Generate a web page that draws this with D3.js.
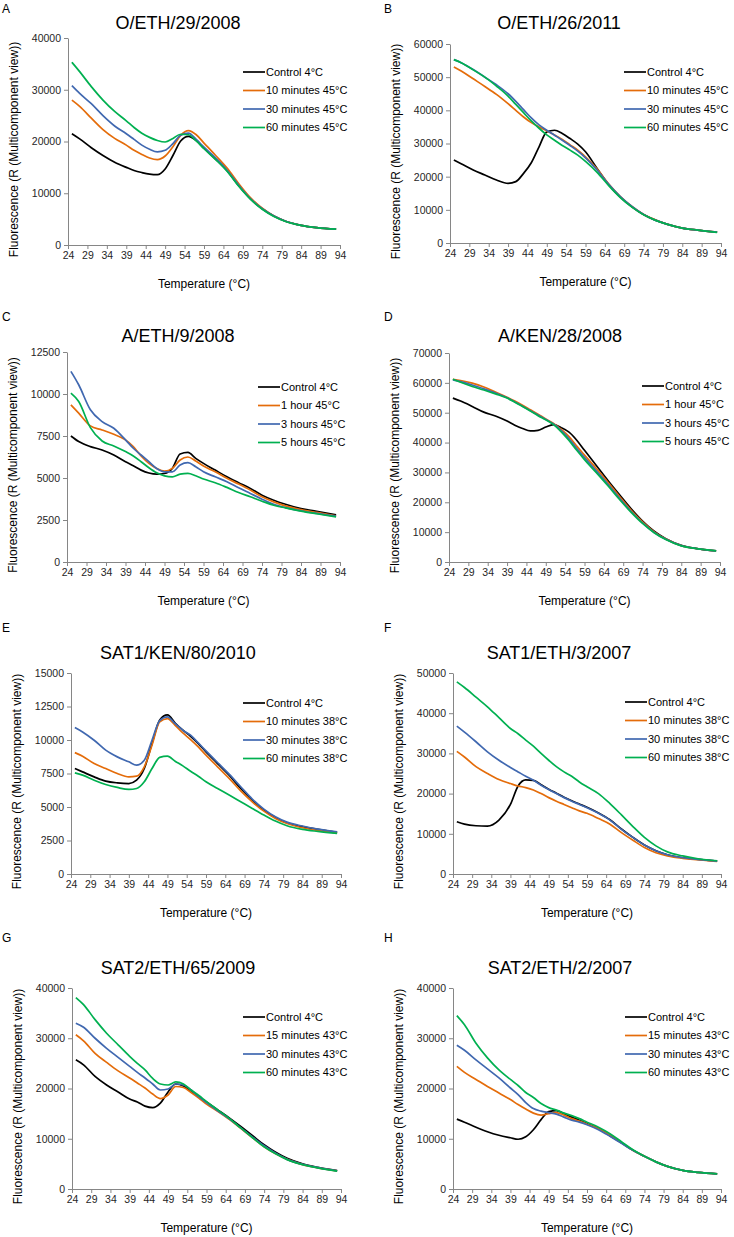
<!DOCTYPE html>
<html>
<head>
<meta charset="utf-8">
<script src="https://cdn.jsdelivr.net/npm/d3@7/dist/d3.min.js"></script>
<style>
  body { margin: 0; background: #fff; }
  text { font-family: "Liberation Sans", Arial, sans-serif; }
</style>
</head>
<body>
<div id="svg"></div>
<script>
// temperatures (°C) at which the curves are sampled
let temps = [25, 27, 30, 33, 36, 39, 41, 43, 45, 47, 49, 51, 53, 55, 57, 59, 62, 65, 68, 71, 74, 77, 80, 84, 88, 93]
let xTicks = [24, 29, 34, 39, 44, 49, 54, 59, 64, 69, 74, 79, 84, 89, 94]

let yTicksA = [0, 10000, 20000, 30000, 40000]
let yTicksB = [0, 10000, 20000, 30000, 40000, 50000, 60000]
let yTicksC = [0, 2500, 5000, 7500, 10000, 12500]
let yTicksD = [0, 10000, 20000, 30000, 40000, 50000, 60000, 70000]
let yTicksE = [0, 2500, 5000, 7500, 10000, 12500, 15000]
let yTicksF = [0, 10000, 20000, 30000, 40000, 50000]
let yTicksG = [0, 10000, 20000, 30000, 40000]
let yTicksH = [0, 10000, 20000, 30000, 40000]

let labels45min = ['Control 4°C', '10 minutes 45°C', '30 minutes 45°C', '60 minutes 45°C']
let labels45hr = ['Control 4°C', '1 hour 45°C', '3 hours 45°C', '5 hours 45°C']
let labels38 = ['Control 4°C', '10 minutes 38°C', '30 minutes 38°C', '60 minutes 38°C']
let labels43 = ['Control 4°C', '15 minutes 43°C', '30 minutes 43°C', '60 minutes 43°C']

// A  O/ETH/29/2008
let aControl = [21500, 20500, 18800, 17300, 16000, 15000, 14400, 14000, 13700, 13600, 14700, 17300, 20100, 21000, 20200, 18700, 16600, 14300, 11400, 8900, 7000, 5600, 4600, 3800, 3350, 3050]
let a10 = [28000, 26800, 24500, 22300, 20600, 19300, 18300, 17500, 16800, 16500, 17200, 19000, 21200, 22100, 21300, 19700, 17300, 14800, 11800, 9100, 7100, 5600, 4600, 3800, 3350, 3050]
let a30 = [30800, 29300, 27300, 25000, 23000, 21500, 20400, 19300, 18500, 18000, 18300, 19600, 21200, 21600, 20400, 18900, 16800, 14400, 11500, 8900, 7000, 5600, 4600, 3800, 3350, 3050]
let a60 = [35300, 33500, 30600, 28000, 25800, 24000, 22700, 21600, 20800, 20200, 19900, 20600, 21400, 21300, 20100, 18600, 16500, 14200, 11300, 8800, 6900, 5500, 4550, 3800, 3350, 3050]

// B  O/ETH/26/2011
let bControl = [25000, 23800, 22000, 20500, 19000, 18000, 18500, 21000, 24200, 29000, 33500, 34000, 33000, 31500, 29800, 27500, 22500, 17600, 13800, 10900, 8600, 6900, 5700, 4500, 3900, 3300]
let b10 = [53100, 51800, 49500, 47200, 44800, 42000, 40000, 38000, 36300, 35000, 33800, 32600, 31200, 29600, 28000, 26000, 22300, 17800, 14000, 11000, 8600, 7000, 5700, 4500, 3900, 3300]
let b30 = [55300, 54300, 52300, 50000, 47700, 45000, 42700, 40200, 37700, 35600, 34000, 32500, 31000, 29400, 27700, 25700, 22000, 17700, 14000, 11000, 8600, 6900, 5700, 4500, 3900, 3300]
let b60 = [55300, 54300, 52200, 50000, 47300, 44300, 41800, 39300, 36800, 34600, 32600, 31000, 29400, 28000, 26500, 24600, 21300, 17300, 13700, 10800, 8500, 6900, 5700, 4500, 3900, 3200]

// C  A/ETH/9/2008
let cControl = [7500, 7170, 6870, 6670, 6370, 5970, 5730, 5470, 5300, 5230, 5270, 5570, 6430, 6520, 6170, 5870, 5470, 5070, 4720, 4380, 3980, 3680, 3440, 3180, 3020, 2800]
let cHour1 = [9350, 8860, 8100, 7860, 7600, 7270, 6870, 6310, 5870, 5570, 5410, 5570, 6070, 6250, 6010, 5710, 5370, 4980, 4640, 4280, 3880, 3580, 3340, 3120, 2950, 2750]
let cHour3 = [11350, 10550, 9060, 8360, 7960, 7270, 6770, 6370, 5970, 5570, 5370, 5370, 5770, 5910, 5670, 5370, 5070, 4780, 4420, 4080, 3740, 3440, 3240, 3050, 2890, 2730]
let cHour5 = [10050, 9550, 8000, 7200, 6910, 6570, 6310, 5970, 5610, 5310, 5130, 5070, 5230, 5270, 5130, 4940, 4720, 4440, 4140, 3880, 3620, 3380, 3220, 3030, 2870, 2690]

// D  A/KEN/28/2008
let dControl = [54900, 53900, 52100, 50200, 48900, 47200, 45800, 44700, 43900, 44100, 45200, 46000, 45000, 43500, 40800, 37400, 32400, 27400, 22600, 17900, 13700, 10300, 7800, 5600, 4500, 3700]
let dHour1 = [61200, 60800, 59900, 58600, 56900, 55200, 53900, 52500, 51000, 49500, 47900, 46400, 44400, 42000, 38800, 35800, 31400, 26800, 22000, 17400, 13400, 10100, 7700, 5500, 4500, 3750]
let dHour3 = [61000, 60400, 59300, 58000, 56600, 55000, 53600, 52200, 50700, 49200, 47700, 46200, 44000, 41300, 38000, 35000, 30600, 26100, 21400, 17000, 13100, 9900, 7600, 5500, 4500, 3750]
let dHour5 = [61200, 60200, 58800, 57600, 56300, 54900, 53500, 52100, 50600, 49000, 47600, 46000, 43600, 40700, 37400, 34300, 30000, 25600, 21000, 16700, 12900, 9800, 7500, 5400, 4500, 3750]

// E  SAT1/KEN/80/2010
let eControl = [7870, 7620, 7250, 6930, 6800, 6750, 7000, 7870, 9730, 11500, 11880, 11270, 10730, 10280, 9730, 9110, 8240, 7370, 6380, 5510, 4770, 4220, 3820, 3530, 3330, 3100]
let e10 = [9060, 8790, 8240, 7870, 7500, 7250, 7300, 8000, 9610, 11350, 11600, 11100, 10530, 10030, 9490, 8870, 8000, 7130, 6210, 5390, 4690, 4150, 3770, 3450, 3250, 3080]
let e30 = [10930, 10600, 9980, 9240, 8740, 8370, 8120, 8490, 9980, 11450, 11720, 11220, 10730, 10360, 9780, 9190, 8320, 7450, 6510, 5590, 4840, 4270, 3870, 3580, 3350, 3150]
let e60 = [7550, 7380, 7000, 6680, 6460, 6310, 6380, 6880, 7870, 8700, 8800, 8420, 8070, 7670, 7300, 6880, 6380, 5890, 5390, 4890, 4400, 3950, 3600, 3330, 3180, 3030]

// F  SAT1/ETH/3/2007
let fControl = [13000, 12400, 12000, 11900, 13400, 17300, 21900, 23400, 23300, 22200, 21100, 20100, 19100, 18200, 17400, 16600, 15200, 13500, 11200, 9100, 7200, 5800, 4800, 4050, 3650, 3200]
let f10 = [30500, 29100, 26700, 25000, 23500, 22500, 21900, 21500, 20900, 20000, 19000, 18100, 17300, 16500, 15700, 15100, 13800, 12400, 10300, 8400, 6600, 5300, 4500, 3900, 3550, 3150]
let f30 = [36800, 35300, 32900, 30400, 28300, 26500, 25400, 24300, 23300, 22100, 21000, 20000, 19000, 18100, 17300, 16500, 15100, 13400, 11100, 9100, 7200, 5800, 4800, 4050, 3650, 3200]
let f60 = [47800, 46400, 44000, 41600, 38900, 36200, 34900, 33300, 31800, 30000, 28300, 26700, 25400, 24300, 22900, 21700, 20000, 17500, 14700, 11800, 9100, 7000, 5500, 4500, 3800, 3300]

// G  SAT2/ETH/65/2009
let gControl = [25700, 24700, 22400, 20700, 19300, 17900, 17300, 16500, 16200, 17100, 19300, 20900, 20500, 19400, 18300, 17300, 15700, 14100, 12400, 10600, 8800, 7300, 6100, 5000, 4300, 3650]
let g15 = [30700, 29500, 27000, 25200, 23500, 22100, 21100, 20100, 18900, 18000, 18700, 20400, 20200, 19200, 18100, 16900, 15400, 13800, 12000, 10200, 8400, 7000, 5900, 4850, 4200, 3600]
let g30 = [33000, 32200, 30000, 28000, 26200, 24400, 23200, 22100, 20900, 19700, 19900, 20900, 20700, 19700, 18400, 17200, 15500, 13900, 12100, 10300, 8600, 7100, 5900, 4900, 4250, 3600]
let g60 = [38100, 36700, 33700, 31000, 28700, 26400, 25000, 23700, 22000, 20900, 20700, 21300, 20900, 19700, 18600, 17400, 15700, 14000, 12100, 10200, 8400, 7000, 5850, 4850, 4200, 3550]

// H  SAT2/ETH/2/2007
let hControl = [13900, 13300, 12300, 11400, 10700, 10200, 9900, 10400, 11800, 13800, 15400, 15600, 15000, 14300, 13700, 13000, 12000, 10600, 9200, 7700, 6500, 5400, 4500, 3700, 3300, 3000]
let h15 = [24400, 23200, 21800, 20400, 19100, 17800, 16800, 15900, 15100, 14700, 15000, 15200, 14700, 14000, 13500, 12900, 12000, 10700, 9200, 7700, 6500, 5400, 4500, 3700, 3300, 3000]
let h30 = [28600, 27600, 25700, 23900, 22100, 20100, 18800, 17200, 16000, 15500, 15200, 14900, 14300, 13700, 13300, 12800, 11800, 10500, 9100, 7700, 6500, 5400, 4500, 3700, 3300, 3000]
let h60 = [34500, 32700, 29000, 26100, 23700, 21800, 20600, 19200, 18200, 17000, 16200, 15700, 15100, 14600, 14000, 13300, 12300, 11000, 9400, 7800, 6500, 5400, 4500, 3700, 3300, 3000]

let colors = ['#000000', '#E46C0A', '#4068B0', '#00B050']

let panels = [
  {letter: 'A', title: 'O/ETH/29/2008', yTicks: yTicksA, labels: labels45min, series: [aControl, a10, a30, a60]},
  {letter: 'B', title: 'O/ETH/26/2011', yTicks: yTicksB, labels: labels45min, series: [bControl, b10, b30, b60]},
  {letter: 'C', title: 'A/ETH/9/2008', yTicks: yTicksC, labels: labels45hr, series: [cControl, cHour1, cHour3, cHour5]},
  {letter: 'D', title: 'A/KEN/28/2008', yTicks: yTicksD, labels: labels45hr, series: [dControl, dHour1, dHour3, dHour5]},
  {letter: 'E', title: 'SAT1/KEN/80/2010', yTicks: yTicksE, labels: labels38, series: [eControl, e10, e30, e60]},
  {letter: 'F', title: 'SAT1/ETH/3/2007', yTicks: yTicksF, labels: labels38, series: [fControl, f10, f30, f60]},
  {letter: 'G', title: 'SAT2/ETH/65/2009', yTicks: yTicksG, labels: labels43, series: [gControl, g15, g30, g60]},
  {letter: 'H', title: 'SAT2/ETH/2/2007', yTicks: yTicksH, labels: labels43, series: [hControl, h15, h30, h60]}
]

// page placement of each plot area
let frames = [
  {lx: 2, ly: 13, x0: 68, x1: 340, top: 38, bottom: 245, titleX: 178, titleY: 29, legX: 243, legY: 72},
  {lx: 384, ly: 13, x0: 450, x1: 721, top: 44, bottom: 243, titleX: 559, titleY: 29, legX: 624, legY: 72},
  {lx: 2, ly: 321, x0: 67, x1: 340, top: 352, bottom: 562, titleX: 178, titleY: 342, legX: 258, legY: 387},
  {lx: 384, ly: 321, x0: 449, x1: 720, top: 353, bottom: 562, titleX: 560, titleY: 342, legX: 642, legY: 386},
  {lx: 2, ly: 632, x0: 71, x1: 341, top: 673, bottom: 874, titleX: 178, titleY: 659, legX: 243, legY: 703},
  {lx: 384, ly: 632, x0: 453, x1: 721, top: 673, bottom: 874, titleX: 559, titleY: 659, legX: 625, legY: 702},
  {lx: 2, ly: 942, x0: 72, x1: 341, top: 988, bottom: 1189, titleX: 178, titleY: 974, legX: 243, legY: 1017},
  {lx: 384, ly: 942, x0: 453, x1: 721, top: 988, bottom: 1189, titleX: 560, titleY: 974, legX: 625, legY: 1017}
]

let svg = d3.select('#svg')
.append('svg')
.attr('width', 734)
.attr('height', 1237)

panels.forEach((p, i) => drawPanel(p, frames[i]))

function drawPanel(p, f) {
  let g = svg.append('g')

  let xScale = d3.scaleLinear()
  .domain([24, 94])
  .range([f.x0, f.x1])

  let yScale = d3.scaleLinear()
  .domain([0, d3.max(p.yTicks)])
  .range([f.bottom, f.top])

  let yAxis = g.append('g')
  .attr('transform', `translate(${f.x0}, 0)`)
  .call(d3.axisLeft(yScale).tickValues(p.yTicks).tickSize(4).tickSizeOuter(0).tickFormat(d3.format('d')))

  let xAxis = g.append('g')
  .attr('transform', `translate(0, ${f.bottom})`)
  .call(d3.axisBottom(xScale).tickValues(xTicks).tickSize(4).tickSizeOuter(0))

  for (let ax of [xAxis, yAxis]) {
    ax.selectAll('path, line').style('stroke', '#868686')
    ax.selectAll('text')
    .style('font-size', '10.5px')
    .style('fill', '#262626')
    .style('font-family', '"Liberation Sans", Arial, sans-serif')
  }
  yAxis.selectAll('text').attr('x', -7)
  xAxis.selectAll('text').attr('y', 7)

  let lineFunc = d3.line()
  .x((d, j) => xScale(temps[j]))
  .y(d => yScale(d))
  .curve(d3.curveMonotoneX)

  g.selectAll('.curve')
  .data(p.series.map((s, k) => ({values: s, color: colors[k]})))
  .join('path')
  .attr('class', 'curve')
  .attr('d', d => lineFunc(d.values))
  .style('fill', 'none')
  .style('stroke', d => d.color)
  .style('stroke-width', 1.7)
  .style('stroke-linejoin', 'round')

  g.append('text')
  .text(p.letter)
  .attr('x', f.lx)
  .attr('y', f.ly)
  .style('font-size', '12px')

  g.append('text')
  .text(p.title)
  .attr('x', f.titleX)
  .attr('y', f.titleY)
  .style('text-anchor', 'middle')
  .style('font-size', '18px')

  g.append('text')
  .text('Temperature (°C)')
  .attr('x', (f.x0 + f.x1) / 2)
  .attr('y', f.bottom + 43)
  .style('text-anchor', 'middle')
  .style('font-size', '12px')

  g.append('text')
  .text('Fluorescence (R (Multicomponent view))')
  .attr('transform', `translate(${f.x0 - 50}, ${(f.top + f.bottom) / 2 + 8})rotate(-90)`)
  .style('text-anchor', 'middle')
  .style('font-size', '12px')

  let legend = g.selectAll('.legend')
  .data(p.labels)
  .join('g')
  .attr('class', 'legend')
  .attr('transform', (d, k) => `translate(${f.legX}, ${f.legY + k * 18.5})`)

  legend.append('line')
  .attr('x1', 0)
  .attr('x2', 22)
  .style('stroke', (d, k) => colors[k])
  .style('stroke-width', 1.7)

  legend.append('text')
  .text(d => d)
  .attr('x', 23)
  .attr('dy', '0.35em')
  .style('font-size', '11px')
}
</script>
</body>
</html>
